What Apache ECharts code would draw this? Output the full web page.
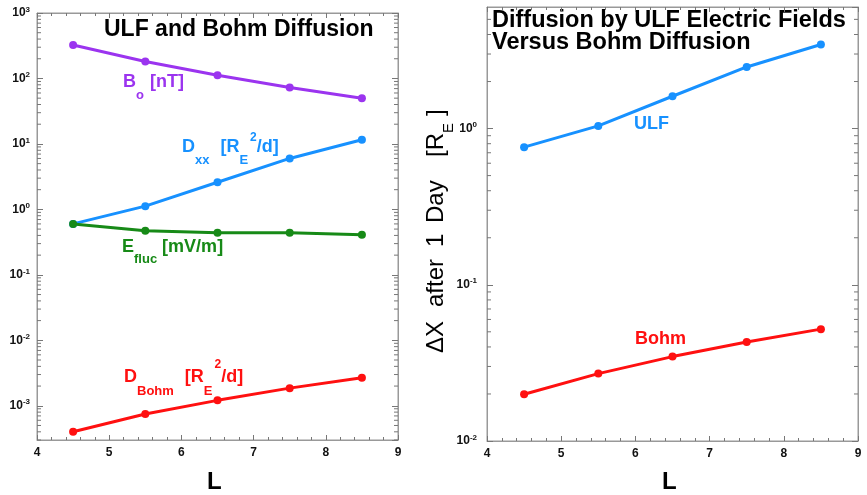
<!DOCTYPE html>
<html><head><meta charset="utf-8">
<script src="https://cdn.jsdelivr.net/npm/echarts@6/dist/echarts.min.js"></script>
<style>html,body{margin:0;padding:0;background:#fff}#c{width:867px;height:495px}</style>
</head><body><div id="c"></div>
<script>
// ---- data ----
const L = [4.5, 5.5, 6.5, 7.5, 8.5];
const Bo = [324, 182, 112, 73, 50];
const Dxx = [0.60, 1.12, 2.6, 6.0, 11.6];
const Efluc = [0.60, 0.47, 0.44, 0.44, 0.41];
const DBohm = [0.00040, 0.00075, 0.00121, 0.00186, 0.00267];
const dxULF = [0.76, 1.04, 1.61, 2.48, 3.45];
const dxBohm = [0.0199, 0.027, 0.0347, 0.043, 0.052];
const leftYRange = [3e-4, 1000];
const rightYRange = [0.01, 6];
const xRange = [4, 9];

const FONT = '"Liberation Sans", Arial, Helvetica, sans-serif';
const C = {purple: '#9b34ef', blue: '#1791ff', green: '#178a17', red: '#ff1010'};

const pairs = (ys) => L.map((x, i) => [x, ys[i]]);

function minorVals(r) {
  const out = [];
  for (let d = Math.floor(Math.log10(r[0])); d <= Math.ceil(Math.log10(r[1])); d++)
    for (let k = 2; k <= 9; k++) { const v = k * Math.pow(10, d); if (v > r[0] && v < r[1]) out.push([xRange[0], v]); }
  return out;
}

const ctx = document.createElement('canvas').getContext('2d');
function tw(t, size, weight) { ctx.font = weight + ' ' + size + 'px ' + FONT; return ctx.measureText(t).width; }
// parts: [text, size, dy, gapBefore, absoluteX]
function richLabel(x, y, color, parts, weight, rotation) {
  weight = weight || 'bold';
  let cx = 0; const children = [];
  parts.forEach(p => {
    cx += (p[3] || 0);
    if (p[4] != null) cx = p[4];
    children.push({type: 'text', x: cx, y: p[2], style: {text: p[0], fill: color, font: weight + ' ' + p[1] + 'px ' + FONT, textAlign: 'left', textVerticalAlign: 'middle'}});
    cx += tw(p[0], p[1], weight);
  });
  return {type: 'group', x: x, y: y, rotation: rotation || 0, children: children, silent: true};
}

const supFmt = v => { const e = Math.round(Math.log10(v)); return '{b|10}{s|' + e + '}'; };
const labelRich = {b: {fontFamily: FONT, fontWeight: 'bold', fontSize: 12, color: '#111'}, s: {fontFamily: FONT, fontWeight: 'bold', fontSize: 8, color: '#111', verticalAlign: 'bottom', padding: [0, 0, 7, 0]}};

function xAx(gi, pos) {
  return {type: 'value', gridIndex: gi, position: pos, min: xRange[0], max: xRange[1], interval: 1,
    axisLine: {show: true, lineStyle: {color: '#999', width: 1}},
    axisTick: {show: true, inside: true, length: 5, lineStyle: {color: '#777'}},
    minorTick: {show: true, splitNumber: 5, length: 3, lineStyle: {color: '#777'}},
    splitLine: {show: false}, minorSplitLine: {show: false},
    axisLabel: {show: pos === 'bottom', margin: 7, fontFamily: FONT, fontWeight: 'bold', fontSize: 12, color: '#111'}};
}
function yAx(gi, pos, r, margin) {
  return {type: 'log', logBase: 10, gridIndex: gi, position: pos, min: r[0], max: r[1], splitNumber: 10,
    axisLine: {show: true, lineStyle: {color: '#999', width: 1}},
    axisTick: {show: true, inside: true, length: 6, lineStyle: {color: '#777'}},
    splitLine: {show: false},
    axisLabel: {show: pos === 'left', margin: margin, showMinLabel: gi === 1, showMaxLabel: gi === 0, formatter: supFmt, rich: labelRich}};
}

function lineSeries(name, ys, color, xi, yi) {
  return {name: name, type: 'line', xAxisIndex: xi, yAxisIndex: yi, data: pairs(ys), symbol: 'circle', symbolSize: 8,
    lineStyle: {color: color, width: 3}, itemStyle: {color: color}, z: 5, animation: false};
}
function minorSeries(r, xi, yi) {
  return {type: 'custom', xAxisIndex: xi, yAxisIndex: yi, data: minorVals(r), silent: true, animation: false, clip: false, z: 10,
    renderItem: (params, api) => {
      const p = api.coord([xRange[0], api.value(1)]); const cs = params.coordSys;
      const st = {stroke: '#777', lineWidth: 1};
      return {type: 'group', children: [
        {type: 'line', shape: {x1: cs.x, y1: p[1], x2: cs.x + 4, y2: p[1]}, style: st},
        {type: 'line', shape: {x1: cs.x + cs.width, y1: p[1], x2: cs.x + cs.width - 4, y2: p[1]}, style: st}]};
    }};
}

const chart = echarts.init(document.getElementById('c'), null, {renderer: 'canvas'});
chart.setOption({
  animation: false,
  backgroundColor: '#fff',
  grid: [
    {left: 37, right: 469, top: 13, bottom: 55, show: true, borderColor: '#999', borderWidth: 1, backgroundColor: 'transparent'},
    {left: 487, right: 9, top: 7, bottom: 54, show: true, borderColor: '#999', borderWidth: 1, backgroundColor: 'transparent'}
  ],
  xAxis: [xAx(0, 'bottom'), xAx(0, 'top'), xAx(1, 'bottom'), xAx(1, 'top')],
  yAxis: [yAx(0, 'left', leftYRange, 7), yAx(0, 'right', leftYRange, 7), yAx(1, 'left', rightYRange, 10), yAx(1, 'right', rightYRange, 10)],
  series: [
    minorSeries(leftYRange, 0, 0),
    minorSeries(rightYRange, 2, 2),
    lineSeries('Bo', Bo, C.purple, 0, 0),
    lineSeries('Dxx', Dxx, C.blue, 0, 0),
    lineSeries('Efluc', Efluc, C.green, 0, 0),
    lineSeries('DBohm', DBohm, C.red, 0, 0),
    lineSeries('ULF', dxULF, C.blue, 2, 2),
    lineSeries('Bohm', dxBohm, C.red, 2, 2)
  ],
  graphic: [
    {type: 'text', left: 104, top: 18, style: {text: 'ULF and Bohm Diffusion', font: 'bold 23px ' + FONT, fill: '#000'}},
    {type: 'text', left: 492, top: 9, style: {text: 'Diffusion by ULF Electric Fields\nVersus Bohm Diffusion', font: 'bold 23.5px ' + FONT, fill: '#000', lineHeight: 22}},
    {type: 'text', left: 207, top: 470, style: {text: 'L', font: 'bold 24px ' + FONT, fill: '#000'}},
    {type: 'text', left: 662, top: 470, style: {text: 'L', font: 'bold 24px ' + FONT, fill: '#000'}},
    richLabel(123, 82, C.purple, [['B', 18, 0], ['o', 13, 13], ['[nT]', 18, 0, 6]]),
    richLabel(182, 147, C.blue, [['D', 18, 0], ['xx', 13, 13], ['[R', 18, 0, 11], ['E', 13, 13], ['2', 12, -9, 2], ['/d]', 18, 0]]),
    richLabel(122, 247, C.green, [['E', 18, 0], ['fluc', 13, 12], ['[mV/m]', 18, 0, 5]]),
    richLabel(124, 377, C.red, [['D', 18, 0], ['Bohm', 13, 14], ['[R', 18, 0, 11], ['E', 13, 14], ['2', 12, -12, 2], ['/d]', 18, 0]]),
    richLabel(634, 124, C.blue, [['ULF', 18, 0]]),
    richLabel(635, 339, C.red, [['Bohm', 18, 0]]),
    richLabel(436, 353, '#000', [['\u0394X', 24, 0, 0, 0], ['after', 24, 0, 0, 46], ['1', 24, 0, 0, 106], ['Day', 24, 0, 0, 130], ['[R', 24, 0, 0, 196], ['E', 15, 13], [']', 24, 0, 0, 237]], 'normal', Math.PI / 2)
  ]
});
</script></body></html>
